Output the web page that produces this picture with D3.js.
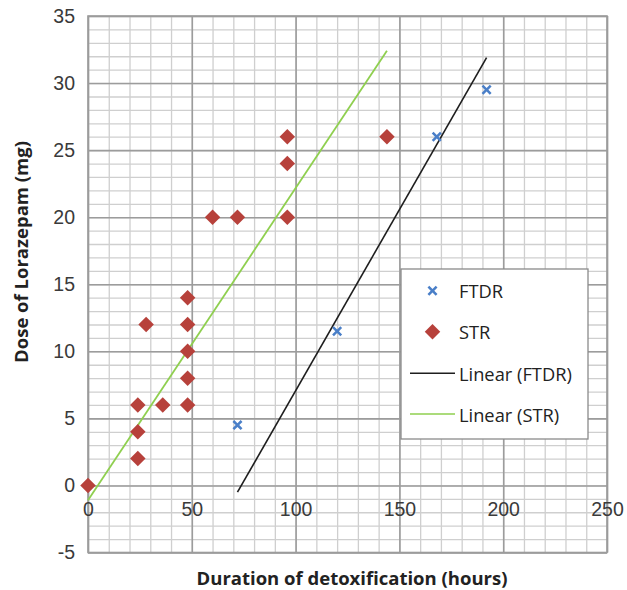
<!DOCTYPE html>
<html lang="en">
<head>
<meta charset="utf-8" />
<title>Lorazepam dose vs detox duration</title>
<script src="https://d3js.org/d3.v7.min.js"></script>
<style>
	body { margin: 0; background: #fff; }
	svg { display: block; font-family: "Open Sans", Lato, sans-serif; }
	.tick text { fill: #3a3a3a; font-size: 19.5px; }
	.minor line { stroke: #cfcfcf; stroke-width: 1.3px; }
	.major line { stroke: #9c9c9c; stroke-width: 1.6px; }
	.legend text { font-size: 18.3px; fill: #222; }
</style>
</head>
<body>
<svg width="627" height="590"></svg>
<script>

//	series
var strHours = [0, 24, 24, 24, 28, 36, 48, 48, 48, 48, 48, 60, 72, 96, 96, 96, 144];
var strDose  = [0, 2, 4, 6, 12, 6, 6, 8, 10, 12, 14, 20, 20, 20, 24, 26, 26];
var ftdrHours = [72, 120, 168, 192];
var ftdrDose  = [4.5, 11.5, 26, 29.5];

//	trendline end points (as drawn)
var trendFTDR = [[72, -0.5], [192, 31.9]];
var trendSTR  = [[0, -1.1], [144, 32.4]];

//	axis ticks
var xTicks = [0, 50, 100, 150, 200, 250];
var yTicks = [-5, 0, 5, 10, 15, 20, 25, 30, 35];
var xMinor = d3.range(0, 251, 10);
var yMinor = d3.range(-5, 36, 1);

var legendItems = ["FTDR", "STR", "Linear (FTDR)", "Linear (STR)"];

var svg = d3.select("svg");
var pLeft = 88, pRight = 607, pTop = 16, pBottom = 552.5;

var x = d3.scaleLinear().domain([0, 250]).range([pLeft, pRight]);
var y = d3.scaleLinear().domain([-5, 35]).range([pBottom, pTop]);

var red = "#b7413b", blue = "#4a7fc8", green = "#8fcf4f", black = "#1e1e1e";
var plain = d => String(d);

//	minor grid
svg.append("g").attr("class", "minor")
	.attr("transform", "translate(0," + pBottom + ")")
	.call(d3.axisBottom(x).tickValues(xMinor).tickSize(-(pBottom - pTop)).tickFormat(""))
	.call(g => g.select(".domain").remove());
svg.append("g").attr("class", "minor")
	.attr("transform", "translate(" + pLeft + ",0)")
	.call(d3.axisLeft(y).tickValues(yMinor).tickSize(-(pRight - pLeft)).tickFormat(""))
	.call(g => g.select(".domain").remove());

//	major grid
svg.append("g").attr("class", "major")
	.attr("transform", "translate(0," + pBottom + ")")
	.call(d3.axisBottom(x).tickValues(xTicks).tickSize(-(pBottom - pTop)).tickFormat(""))
	.call(g => g.select(".domain").remove());
svg.append("g").attr("class", "major")
	.attr("transform", "translate(" + pLeft + ",0)")
	.call(d3.axisLeft(y).tickValues(yTicks).tickSize(-(pRight - pLeft)).tickFormat(""))
	.call(g => g.select(".domain").remove());

svg.append("rect")
	.attr("x", pLeft).attr("y", pTop)
	.attr("width", pRight - pLeft).attr("height", pBottom - pTop)
	.attr("fill", "none").attr("stroke", "#9c9c9c").attr("stroke-width", 1.6);

//	tick labels
svg.append("g")
	.attr("transform", "translate(" + (pLeft - 13) + ",0)")
	.call(d3.axisLeft(y).tickValues(yTicks).tickSize(0).tickPadding(0).tickFormat(plain))
	.call(g => g.select(".domain").remove());
svg.append("g")
	.attr("transform", "translate(0," + (y(0) + 17) + ")")
	.call(d3.axisBottom(x).tickValues(xTicks).tickSize(0).tickPadding(0).tickFormat(plain))
	.call(g => g.select(".domain").remove());

//	axis titles
svg.append("text")
	.attr("transform", "translate(20,252) rotate(-90)")
	.attr("text-anchor", "middle").attr("dominant-baseline", "central")
	.attr("font-size", 18.5).attr("font-weight", "bold").attr("fill", "#222")
	.text("Dose of Lorazepam (mg)");
svg.append("text")
	.attr("x", 352).attr("y", 577)
	.attr("text-anchor", "middle").attr("dominant-baseline", "central")
	.attr("font-size", 18.5).attr("font-weight", "bold").attr("fill", "#222")
	.text("Duration of detoxification (hours)");

//	trendlines
var line = d3.line().x(d => x(d[0])).y(d => y(d[1]));
svg.append("path").attr("d", line(trendSTR))
	.attr("stroke", green).attr("stroke-width", 1.8).attr("fill", "none");
svg.append("path").attr("d", line(trendFTDR))
	.attr("stroke", black).attr("stroke-width", 1.6).attr("fill", "none");

//	markers
var diamond = d3.symbol().type(d3.symbolSquare).size(120);
var cross = "M-5,-3.2 L-3.2,-5 L0,-1.8 L3.2,-5 L5,-3.2 L1.8,0 L5,3.2 L3.2,5 L0,1.8 L-3.2,5 L-5,3.2 L-1.8,0 Z";

svg.append("g").selectAll("path")
	.data(d3.zip(strHours, strDose))
	.join("path")
	.attr("d", diamond)
	.attr("transform", d => "translate(" + x(d[0]) + "," + y(d[1]) + ") rotate(45)")
	.attr("fill", red);

svg.append("g").selectAll("path")
	.data(d3.zip(ftdrHours, ftdrDose))
	.join("path")
	.attr("d", cross)
	.attr("transform", d => "translate(" + x(d[0]) + "," + y(d[1]) + ")")
	.attr("fill", blue);

//	legend
var lg = svg.append("g").attr("class", "legend");
lg.append("rect")
	.attr("x", 401).attr("y", 269).attr("width", 187).attr("height", 170)
	.attr("fill", "#fff").attr("stroke", "#8a8a8a").attr("stroke-width", 1.3);

var rowY = [290.7, 331.7, 373.3, 414];
legendItems.forEach(function(name, i) {
	var cy = rowY[i];
	if (i === 0) {
		lg.append("path").attr("d", cross).attr("fill", blue)
			.attr("transform", "translate(432.5," + cy + ")");
	} else if (i === 1) {
		lg.append("path").attr("d", diamond).attr("fill", red)
			.attr("transform", "translate(432.5," + cy + ") rotate(45)");
	} else {
		lg.append("line").attr("x1", 410).attr("x2", 455)
			.attr("y1", cy).attr("y2", cy)
			.attr("stroke", i === 2 ? black : green).attr("stroke-width", 1.6);
	}
	lg.append("text").attr("x", 459).attr("y", cy)
		.attr("dominant-baseline", "central").text(name);
});

</script>
</body>
</html>
